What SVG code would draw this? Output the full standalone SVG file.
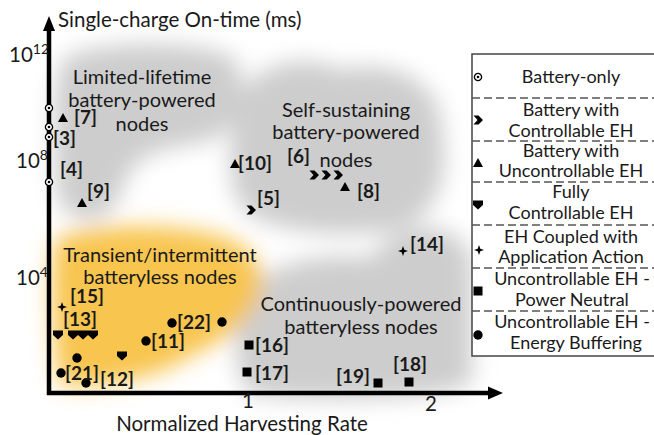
<svg xmlns="http://www.w3.org/2000/svg" xmlns:xlink="http://www.w3.org/1999/xlink" width="654" height="435" viewBox="0 0 654 435">
<style>
.reg{font-family:Lato,"Liberation Sans",sans-serif;font-size:20px;fill:#1a1a1a;text-anchor:middle}
.ax{font-family:Lato,"Liberation Sans",sans-serif;font-size:20.5px;fill:#1a1a1a}
.lab{font-family:Lato,"Liberation Sans",sans-serif;font-size:19px;font-weight:bold;fill:#1a1a1a}
.leg{font-family:Lato,"Liberation Sans",sans-serif;font-size:18px;fill:#1a1a1a;text-anchor:middle}
.sep{stroke:#555;stroke-width:1.3;stroke-dasharray:8 4;fill:none}
</style>
<defs>
<filter id="blur" x="-30%" y="-30%" width="160%" height="160%"><feGaussianBlur stdDeviation="11"/></filter>
<g id="mBat"><circle r="3.6" fill="#fff" stroke="#000" stroke-width="1.3"/><circle r="1.3" fill="#000"/></g>
<path id="mChev" d="M-4.5,-4.5 L0.5,-4.5 L5,0 L0.5,4.5 L-4.5,4.5 L-0.5,0 Z" fill="#000"/>
<path id="mTri" d="M0,-5 L5,4 L-5,4 Z" fill="#000"/>
<path id="mShield" d="M-5,-4.5 L5,-4.5 L5,0 L0,4.5 L-5,0 Z" fill="#000"/>
<path id="mStar" d="M0,-5 L1.3,-1.3 L5,0 L1.3,1.3 L0,5 L-1.3,1.3 L-5,0 L-1.3,-1.3 Z" fill="#000"/>
<rect id="mSq" x="-4.5" y="-4.5" width="9" height="9" fill="#000"/>
<circle id="mDot" r="4.7" fill="#000"/>
</defs>
<rect width="654" height="435" fill="#fff"/>

<g id="regions" filter="url(#blur)">
<path d="M62,60 C90,40 205,38 236,60 C250,92 240,132 204,142 C164,148 132,152 122,190 C112,226 72,228 58,200 C52,150 52,90 62,60 Z" fill="#cdcdcd"/>
<path d="M236,110 C240,70 300,48 340,70 C390,58 442,80 442,130 C452,180 432,230 382,232 C332,236 282,232 252,216 C226,200 226,150 236,110 Z" fill="#cdcdcd"/>
<path d="M242,300 C262,262 322,252 372,258 C392,220 462,215 472,262 L472,382 C442,402 302,402 250,394 C232,372 234,332 242,300 Z" fill="#cdcdcd"/>
<path d="M55,240 C80,224 180,220 232,240 C266,256 270,292 250,312 C236,332 220,342 190,356 C160,376 120,386 60,386 C52,340 50,280 55,240 Z" fill="#f8c550"/>
</g>

<g id="axes">
<line x1="49" y1="395" x2="49" y2="28" stroke="#000" stroke-width="4.5"/>
<polygon points="49,16 55,31 43,31" fill="#000"/>
<line x1="47" y1="393" x2="490" y2="393" stroke="#000" stroke-width="4.5"/>
<polygon points="503,393 488,386.5 488,399.5" fill="#000"/>
<text class="ax" x="58" y="27">Single-charge On-time (ms)</text>
<text class="ax" x="9" y="62">10<tspan font-size="14" dy="-8">12</tspan></text>
<text class="ax" x="16" y="168">10<tspan font-size="14" dy="-8">8</tspan></text>
<text class="ax" x="16" y="285">10<tspan font-size="14" dy="-8">4</tspan></text>
<text class="ax" x="248" y="408" text-anchor="middle">1</text>
<text class="ax" x="431" y="411" text-anchor="middle">2</text>
<text class="ax" x="242" y="431" text-anchor="middle">Normalized Harvesting Rate</text>
</g>

<g id="region-labels">
<text class="reg" x="142" y="84">Limited-lifetime</text>
<text class="reg" x="142" y="107">battery-powered</text>
<text class="reg" x="142" y="131">nodes</text>
<text class="reg" x="346" y="117">Self-sustaining</text>
<text class="reg" x="346" y="139">battery-powered</text>
<text class="reg" x="346" y="167">nodes</text>
<text class="reg" x="160" y="262">Transient/intermittent</text>
<text class="reg" x="160" y="284">batteryless nodes</text>
<text class="reg" x="361" y="311">Continuously-powered</text>
<text class="reg" x="361" y="334">batteryless nodes</text>
</g>

<g id="points">
<use href="#mBat" x="49" y="108"/>
<use href="#mBat" x="49" y="127"/>
<use href="#mBat" x="49" y="137"/>
<use href="#mBat" x="49" y="182"/>
<use href="#mTri" x="63" y="118"/>
<use href="#mTri" x="82" y="203"/>
<use href="#mTri" x="235" y="164"/>
<use href="#mTri" x="345" y="187"/>
<use href="#mChev" x="314" y="175"/>
<use href="#mChev" x="326" y="175"/>
<use href="#mChev" x="338" y="175"/>
<use href="#mChev" x="251" y="210"/>
<use href="#mStar" x="403" y="251"/>
<use href="#mStar" x="62" y="307"/>
<use href="#mShield" x="58" y="335"/>
<use href="#mShield" x="73" y="335"/>
<use href="#mShield" x="83" y="335"/>
<use href="#mShield" x="93" y="335"/>
<use href="#mShield" x="122" y="356"/>
<use href="#mDot" x="77" y="358"/>
<use href="#mDot" x="61" y="373"/>
<use href="#mDot" x="86" y="383"/>
<use href="#mDot" x="146" y="341"/>
<use href="#mDot" x="172" y="323"/>
<use href="#mDot" x="222" y="322"/>
<use href="#mSq" x="249" y="345"/>
<use href="#mSq" x="247" y="372"/>
<use href="#mSq" x="378" y="383"/>
<use href="#mSq" x="409" y="382"/>
</g>

<g id="point-labels">
<text class="lab" x="74" y="124">[7]</text>
<text class="lab" x="53" y="145">[3]</text>
<text class="lab" x="60" y="176">[4]</text>
<text class="lab" x="87" y="198">[9]</text>
<text class="lab" x="238" y="170">[10]</text>
<text class="lab" x="287" y="163">[6]</text>
<text class="lab" x="357" y="198">[8]</text>
<text class="lab" x="257" y="205">[5]</text>
<text class="lab" x="410" y="251">[14]</text>
<text class="lab" x="70" y="303">[15]</text>
<text class="lab" x="63" y="326">[13]</text>
<text class="lab" x="65" y="380">[21]</text>
<text class="lab" x="100" y="386">[12]</text>
<text class="lab" x="151" y="348">[11]</text>
<text class="lab" x="177" y="329">[22]</text>
<text class="lab" x="255" y="352">[16]</text>
<text class="lab" x="255" y="380">[17]</text>
<text class="lab" x="336" y="383">[19]</text>
<text class="lab" x="393" y="371">[18]</text>
</g>

<g id="legend">
<rect x="472" y="54" width="190" height="302" fill="#fff" stroke="#444" stroke-width="1.5"/>
<line class="sep" x1="472" y1="98" x2="654" y2="98"/>
<line class="sep" x1="472" y1="141" x2="654" y2="141"/>
<line class="sep" x1="472" y1="182" x2="654" y2="182"/>
<line class="sep" x1="472" y1="225" x2="654" y2="225"/>
<line class="sep" x1="472" y1="268" x2="654" y2="268"/>
<line class="sep" x1="472" y1="311" x2="654" y2="311"/>
<use href="#mBat" x="478" y="77"/>
<text class="leg" x="571" y="83">Battery-only</text>
<use href="#mChev" x="478" y="120"/>
<text class="leg" x="571" y="116">Battery with</text>
<text class="leg" x="571" y="137">Controllable EH</text>
<use href="#mTri" x="478" y="163"/>
<text class="leg" x="571" y="157">Battery with</text>
<text class="leg" x="571" y="177">Uncontrollable EH</text>
<use href="#mShield" x="478" y="205"/>
<text class="leg" x="571" y="198">Fully</text>
<text class="leg" x="571" y="219">Controllable EH</text>
<use href="#mStar" x="479" y="250"/>
<text class="leg" x="571" y="243">EH Coupled with</text>
<text class="leg" x="571" y="263">Application Action</text>
<use href="#mSq" x="478" y="291"/>
<text class="leg" x="572" y="285">Uncontrollable EH -</text>
<text class="leg" x="572" y="306">Power Neutral</text>
<use href="#mDot" x="478" y="335"/>
<text class="leg" x="572" y="328">Uncontrollable EH -</text>
<text class="leg" x="576" y="349">Energy Buffering</text>
</g>
</svg>
